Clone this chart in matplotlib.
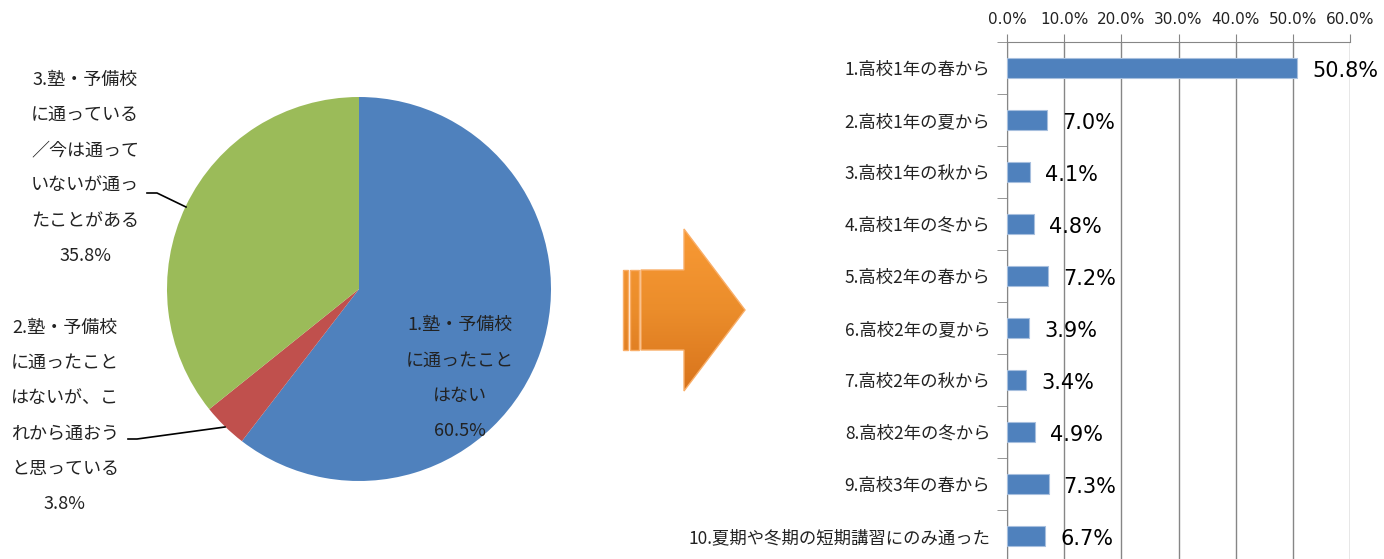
import numpy as np
import matplotlib.pyplot as plt
from matplotlib.patches import Polygon
from matplotlib.colors import LinearSegmentedColormap

plt.rcParams['font.family'] = ['Noto Sans CJK JP', 'DejaVu Sans']

# pie: current / past cram school attendance
pie_labels = ['1.塾・予備校\nに通ったこと\nはない\n60.5%',
              '2.塾・予備校\nに通ったこと\nはないが、こ\nれから通おう\nと思っている\n3.8%',
              '3.塾・予備校\nに通っている\n／今は通って\nいないが通っ\nたことがある\n35.8%']
pie_values = [60.5, 3.8, 35.8]
pie_colors = ['#4F81BD', '#C0504D', '#9BBB59']

# bars: when they started
bar_labels = ['1.高校1年の春から', '2.高校1年の夏から', '3.高校1年の秋から', '4.高校1年の冬から',
              '5.高校2年の春から', '6.高校2年の夏から', '7.高校2年の秋から', '8.高校2年の冬から',
              '9.高校3年の春から', '10.夏期や冬期の短期講習にのみ通った']
bar_values = [50.8, 7.0, 4.1, 4.8, 7.2, 3.9, 3.4, 4.9, 7.3, 6.7]
x_ticks = [0, 10, 20, 30, 40, 50, 60]

W, H = 1384, 559
fig = plt.figure(figsize=(W / 100, H / 100), dpi=100)

# full-figure axes in pixel units for the pie and the arrow
bg = fig.add_axes([0, 0, 1, 1])
bg.axis('off')

cx, cy, r = 359, H - 289, 192
bg.pie(pie_values, colors=pie_colors, startangle=90, counterclock=False,
       center=(cx, cy), radius=r, wedgeprops=dict(linewidth=0))

txt = dict(fontsize=13, color='#222222', ha='center', va='center', linespacing=2.24)
bg.text(460, H - 378, pie_labels[0], **txt)
bg.text(65, H - 416, pie_labels[1], **txt)
bg.text(85, H - 168, pie_labels[2], **txt)

# leader lines
bg.plot([128, 137, 225], [H - 439, H - 439, H - 427], color='black', lw=1.2)
bg.plot([147, 157, 186], [H - 193, H - 193, H - 207], color='black', lw=1.2)

# orange arrow with vertical gradient
arrow = [(641, H - 270), (684, H - 270), (684, H - 229), (745, H - 310),
         (684, H - 391), (684, H - 350), (641, H - 350)]
grad = np.linspace(0, 1, 256).reshape(-1, 1)
cmap = LinearSegmentedColormap.from_list('org', ['#F99A35', '#EB8D2B', '#D7721B'])
shapes = [arrow,
          [(623, H - 270), (628, H - 270), (628, H - 350), (623, H - 350)],
          [(630, H - 270), (639, H - 270), (639, H - 350), (630, H - 350)]]
for pts in shapes:
    poly = Polygon(pts, closed=True, facecolor='none', edgecolor='#F9AE68', lw=1, zorder=2)
    bg.add_patch(poly)
    im = bg.imshow(grad, cmap=cmap, extent=(620, 750, H - 395, H - 225),
                   aspect='auto', origin='upper', zorder=1)
    im.set_clip_path(poly)
bg.set_xlim(0, W)
bg.set_ylim(0, H)
bg.set_aspect('auto')

# horizontal bar chart
ax = fig.add_axes([1007 / W, (H - 562) / H, 343 / W, 520 / H])
ypos = np.arange(len(bar_values))
ax.barh(ypos, bar_values, height=0.38, color='#4F81BD', edgecolor='#A7BFDE', lw=0.8, zorder=3)
ax.set_xlim(0, 60)
ax.set_ylim(len(bar_values) - 0.5, -0.5)
ax.xaxis.tick_top()
ax.set_xticks(x_ticks)
ax.set_xticklabels([f'{v:.1f}%' for v in x_ticks], fontsize=11, color='#222222',
                   family='DejaVu Sans')
ax.tick_params(axis='x', length=6, color='#868686', pad=5)
ax.set_yticks(ypos)
ax.set_yticklabels(bar_labels, fontsize=12.5, color='#222222')
ax.tick_params(axis='y', length=0, pad=12)
ax.set_yticks(np.arange(len(bar_values) + 1) - 0.5, minor=True)
ax.tick_params(axis='y', which='minor', length=7, color='#868686')
ax.grid(axis='x', color='#868686', lw=1, zorder=0)
for s in ['right', 'bottom']:
    ax.spines[s].set_visible(False)
for s in ['left', 'top']:
    ax.spines[s].set_color('#868686')
for y, v in zip(ypos, bar_values):
    ax.text(v + 2.6, y + 0.05, f'{v:.1f}%', fontsize=15, color='black',
            ha='left', va='center', zorder=4, family='DejaVu Sans')

fig.savefig('out.png', dpi=100)
